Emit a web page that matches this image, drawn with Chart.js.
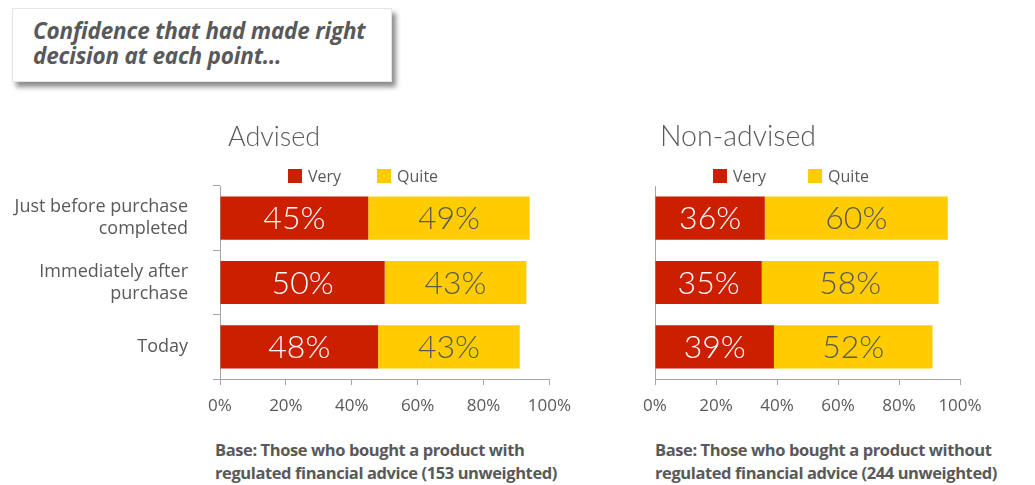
<!DOCTYPE html>
<html>
<head>
<meta charset="utf-8">
<script src="https://cdn.jsdelivr.net/npm/chart.js@4"></script>
<style>
  html, body { margin: 0; padding: 0; background: #fff; }
  body { width: 1035px; height: 485px; position: relative; overflow: hidden; font-family: "Open Sans", sans-serif; }
  .callout {
    position: absolute; left: 12px; top: 8px; width: 380px; height: 74px;
    background: #fff; border: 1px solid #e4e4e4;
    box-shadow: 4px 5px 5px rgba(0,0,0,0.45);
    box-sizing: border-box;
    padding: 9px 0 0 20px;
    color: #595959; font-weight: 700; font-style: italic; font-size: 22.5px; line-height: 25px;
    letter-spacing: -0.2px;
  }
  .base {
    position: absolute; top: 438px; color: #595959; font-weight: 700; font-size: 16.5px;
    line-height: 23px; letter-spacing: -0.4px; white-space: nowrap;
  }
  canvas { position: absolute; }
</style>
</head>
<body>
<div class="callout">Confidence that had made right<br>decision at each point…</div>

<div style="position:absolute;left:0;top:115px;width:582px;height:320px"><canvas id="advisedChart"></canvas></div>
<div style="position:absolute;left:600px;top:115px;width:420px;height:320px"><canvas id="nonAdvisedChart"></canvas></div>

<div class="base" style="left:215px">Base: Those who bought a product with<br>regulated financial advice (153 unweighted)</div>
<div class="base" style="left:655px">Base: Those who bought a product without<br>regulated financial advice (244 unweighted)</div>

<script>
const stages = [['Just before purchase', 'completed'], ['Immediately after', 'purchase'], 'Today'];
const seriesNames = ['Very', 'Quite'];
const advisedVery = [45, 50, 48];
const advisedQuite = [49, 43, 43];
const nonAdvisedVery = [36, 35, 39];
const nonAdvisedQuite = [60, 58, 52];
const xTicks = [0, 20, 40, 60, 80, 100];

const RED = '#cc1f00';
const YELLOW = '#ffcc00';
const GREY = '#595959';
const AXIS = '#a6a6a6';

// title + legend drawn above the plot area, values written inside each bar
const decorations = {
  id: 'decorations',
  afterDatasetsDraw(chart, args, opts) {
    const ctx = chart.ctx;
    const area = chart.chartArea;
    ctx.save();

    ctx.fillStyle = GREY;
    ctx.font = '300 ' + opts.titleSize + 'px Lato, sans-serif';
    ctx.textAlign = 'left';
    ctx.textBaseline = 'middle';
    ctx.fillText(opts.title, area.left + opts.titleDx, area.top - 49);

    // legend
    let x = area.left + opts.legendDx;
    const ly = area.top - 10;
    ctx.font = '16px "Open Sans", sans-serif';
    chart.data.datasets.forEach(ds => {
      ctx.fillStyle = ds.backgroundColor;
      ctx.fillRect(x, ly - 7, 14, 14);
      ctx.fillStyle = GREY;
      ctx.fillText(ds.label, x + 20, ly + 1);
      x += 20 + ctx.measureText(ds.label).width + opts.legendGap;
    });

    // values
    ctx.font = '300 32px Lato, sans-serif';
    ctx.textAlign = 'center';
    chart.data.datasets.forEach((ds, i) => {
      chart.getDatasetMeta(i).data.forEach((bar, j) => {
        ctx.fillStyle = i === 0 ? '#ffffff' : GREY;
        const cx = (bar.x + bar.base) / 2;
        ctx.fillText(ds.data[j] + '%', cx, bar.y + 1);
      });
    });
    ctx.restore();
  }
};

function makeChart(id, very, quite, opts) {
  new Chart(document.getElementById(id), {
    type: 'bar',
    data: {
      labels: stages,
      datasets: [
        { label: seriesNames[0], data: very, backgroundColor: RED },
        { label: seriesNames[1], data: quite, backgroundColor: YELLOW }
      ]
    },
    options: {
      indexAxis: 'y',
      responsive: true,
      maintainAspectRatio: false,
      animation: false,
      categoryPercentage: 1,
      barPercentage: 0.67,
      layout: { padding: { top: 71, right: opts.padRight, left: 0, bottom: 0 } },
      plugins: {
        legend: { display: false },
        tooltip: { enabled: false },
        decorations: opts.deco
      },
      scales: {
        x: {
          stacked: true,
          min: 0,
          max: 100,
          afterBuildTicks: scale => { scale.ticks = xTicks.map(v => ({ value: v })); },
          afterFit: scale => { scale.height = 56; },
          border: { color: AXIS },
          grid: { drawOnChartArea: false, color: AXIS, tickLength: 6 },
          ticks: {
            color: GREY,
            padding: 11,
            font: { family: '"Open Sans", sans-serif', size: 17 },
            callback: v => v + '%'
          }
        },
        y: {
          stacked: true,
          afterFit: scale => { scale.width = opts.yWidth; },
          border: { color: AXIS },
          grid: { drawOnChartArea: false, color: AXIS, tickLength: 7, display: opts.showLabels },
          ticks: {
            display: opts.showLabels,
            color: GREY,
            padding: 25,
            font: { family: '"Open Sans", sans-serif', size: 18, lineHeight: 1.22 }
          }
        }
      }
    },
    plugins: [decorations]
  });
}

makeChart('advisedChart', advisedVery, advisedQuite, {
  padRight: 28, yWidth: 220, showLabels: true,
  deco: { title: 'Advised', titleSize: 27, titleDx: 8, legendDx: 68, legendGap: 36 }
});
makeChart('nonAdvisedChart', nonAdvisedVery, nonAdvisedQuite, {
  padRight: 60, yWidth: 55, showLabels: false,
  deco: { title: 'Non-advised', titleSize: 28.5, titleDx: 5, legendDx: 58, legendGap: 42 }
});
</script>
</body>
</html>
